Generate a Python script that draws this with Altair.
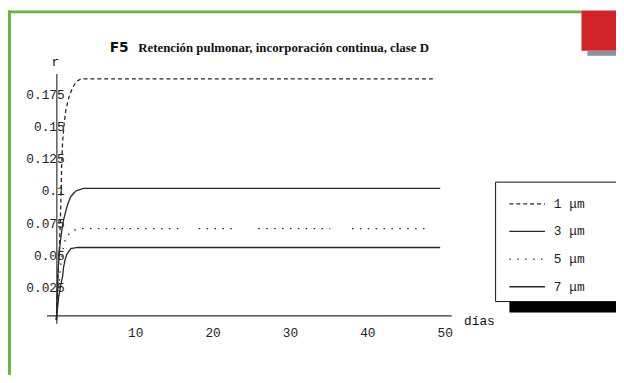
import altair as alt
import pandas as pd

# ---- data ----
series = ["1 μm", "3 μm", "5 μm", "7 μm"]

days_1 = [0, 0.17, 0.38, 0.5, 0.6, 0.68, 0.8, 1.02, 1.23, 1.65, 2.08, 2.6, 3.2, 49.0]
r_1 = [0.0, 0.031, 0.054, 0.074, 0.095, 0.12, 0.138, 0.153, 0.163, 0.1735, 0.180, 0.185, 0.187, 0.187]

days_3 = [0, 0.26, 0.5, 0.69, 0.89, 1.1, 1.44, 1.86, 2.5, 3.5, 49.6]
r_3 = [0.0, 0.043, 0.060, 0.069, 0.0765, 0.0817, 0.0893, 0.0957, 0.100, 0.102, 0.102]

# dotted series is drawn in pieces (segments)
days_5 = [[0, 0.5, 0.93, 1.23, 2.0, 2.93, 16.0], [18.4, 23.3], [26.1, 35.4], [38.2, 47.7]]
r_5 = [[0.0, 0.040, 0.0574, 0.064, 0.069, 0.0709, 0.0709], [0.0709, 0.0709], [0.0709, 0.0709], [0.0709, 0.0709]]

days_7 = [0, 0.3, 0.6, 0.8, 0.93, 1.1, 1.35, 1.86, 2.7, 49.6]
r_7 = [0.0, 0.018, 0.028, 0.0334, 0.041, 0.046, 0.051, 0.0554, 0.0562, 0.0562]

x_ticks = [10, 20, 30, 40, 50]
y_ticks = [0.025, 0.05, 0.075, 0.1, 0.125, 0.15, 0.175]

title_bold = "F5"
title_text = "Retención pulmonar, incorporación continua, clase D"

rows = []
for d, v in zip(days_1, r_1):
    rows.append({"dias": d, "r": v, "serie": series[0], "seg": "1a"})
for d, v in zip(days_3, r_3):
    rows.append({"dias": d, "r": v, "serie": series[1], "seg": "3a"})
for i, (ds, vs) in enumerate(zip(days_5, r_5)):
    for d, v in zip(ds, vs):
        rows.append({"dias": d, "r": v, "serie": series[2], "seg": f"5{i}"})
for d, v in zip(days_7, r_7):
    rows.append({"dias": d, "r": v, "serie": series[3], "seg": "7a"})
df = pd.DataFrame(rows)

MONO = "Liberation Mono"
INK = "#262626"

xs = alt.Scale(domain=[-1.276, 51.02], nice=False, zero=False)
ys = alt.Scale(domain=[-0.00255, 0.1911], nice=False, zero=False)

lines = alt.Chart(df).mark_line(strokeWidth=1.3, color=INK).encode(
    x=alt.X("dias:Q", scale=xs, axis=alt.Axis(
        values=x_ticks, title=None, grid=False, ticks=False, offset=-8,
        labelPadding=11, labelOffset=1.5, labelFont=MONO, labelFontSize=13,
        labelColor="#222", domainColor="#333", domainWidth=1.2)),
    y=alt.Y("r:Q", scale=ys, axis=alt.Axis(
        values=y_ticks, labelExpr="format(datum.value, '.3~f')", title=None,
        grid=False, ticks=False, offset=-10,
        labelPadding=-8, labelFont=MONO, labelFontSize=13, labelColor="#222",
        domainColor="#333", domainWidth=1.2)),
    strokeDash=alt.StrokeDash("serie:N", scale=alt.Scale(
        domain=series, range=[[4, 3], [1, 0], [1.5, 6.5], [1, 0]]),
        legend=alt.Legend(orient="none", legendX=468, legendY=113, title=None,
                          symbolType="stroke", symbolSize=1296, symbolStrokeWidth=1.3,
                          symbolStrokeColor=INK, labelFont=MONO, labelFontSize=13,
                          labelColor="#222", rowPadding=2, labelOffset=8)),
    detail="seg:N",
    order="dias:Q",
)

def box(x, x2, y, y2, color):
    return alt.Chart(pd.DataFrame({"k": [0]})).mark_rect(color=color).encode(
        x=alt.value(x), x2=alt.value(x2), y=alt.value(y), y2=alt.value(y2))

green = "#67b346"
deco = [
    box(-39, 542, -64, -61, green),
    box(-39, -36, -64, 311, green),
    box(542, 577, -64, -23, "#d1232a"),
    box(548, 577, -23, -18, "#8c919f"),
    box(469, 577, 231, 242, "#000000"),
]
legend_frame = alt.Chart(pd.DataFrame({"k": [0]})).mark_rect(
    fill="white", stroke="#111", strokeWidth=1).encode(
    x=alt.value(455), x2=alt.value(600), y=alt.value(110), y2=alt.value(231))

def label(txt, x, y, font, size, weight="normal", align="left"):
    return alt.Chart(pd.DataFrame({"t": [txt]})).mark_text(
        font=font, fontSize=size, fontWeight=weight, align=align,
        baseline="middle", color="#111").encode(
        text="t:N", x=alt.value(x), y=alt.value(y))

texts = [
    label(title_bold, 64, -26, "DejaVu Sans", 14, "bold"),
    label(title_text, 93, -26, "Liberation Serif", 13, "bold"),
    label("r", 9, -12, MONO, 13, align="center"),
    label("días", 423, 251, MONO, 13),
]

chart = alt.layer(*deco, legend_frame, lines, *texts).properties(
    width=410, height=253,
    autosize=alt.AutoSizeParams(type="none"),
    padding={"left": 39, "top": 64, "right": 167, "bottom": 50},
).configure_view(stroke=None)

chart.save("out.html", embed_options={"renderer": "svg", "actions": False})
